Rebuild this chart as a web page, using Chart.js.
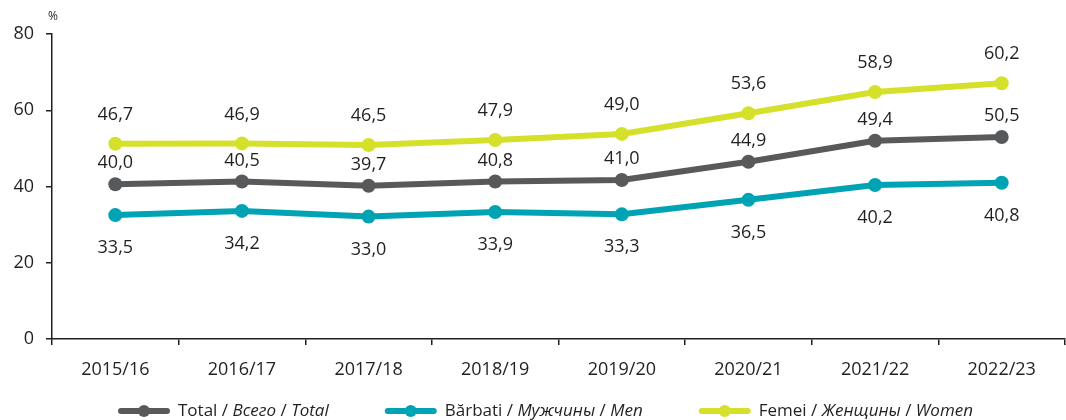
<!DOCTYPE html>
<html>
<head>
<meta charset="utf-8">
<script src="https://cdn.jsdelivr.net/npm/chart.js@4/dist/chart.umd.min.js"></script>
<style>
html,body{margin:0;padding:0;background:#fff;overflow:hidden;}
#wrap{width:1066px;height:420px;position:relative;overflow:hidden;}
</style>
</head>
<body>
<div id="wrap"><canvas id="c" width="1072" height="420"></canvas></div>
<script>
const categories = ['2015/16','2016/17','2017/18','2018/19','2019/20','2020/21','2021/22','2022/23'];
const totalValues = [40.6, 41.3, 40.2, 41.3, 41.7, 46.5, 52.0, 53.0];
const menValues   = [32.5, 33.6, 32.1, 33.3, 32.7, 36.5, 40.4, 41.0];
const womenValues = [51.2, 51.3, 50.9, 52.2, 53.8, 59.2, 64.8, 67.1];
const totalLabels = ['40,0','40,5','39,7','40,8','41,0','44,9','49,4','50,5'];
const menLabels   = ['33,5','34,2','33,0','33,9','33,3','36,5','40,2','40,8'];
const womenLabels = ['46,7','46,9','46,5','47,9','49,0','53,6','58,9','60,2'];
const yTicks = [0, 20, 40, 60, 80];
const legendParts = [
  [['Total / ', false], ['Всего', true], [' / ', false], ['Total', true]],
  [['Bărbati / ', false], ['Мужчины', true], [' / ', false], ['Men', true]],
  [['Femei / ', false], ['Женщины', true], [' / ', false], ['Women', true]]
];

const FONT = '"Open Sans", sans-serif';
const TXT = '#231f20';
const colors = ['#58595b', '#00a3b4', '#d5e02b'];
const labelSets = [totalLabels, menLabels, womenLabels];
const labelOffsets = [-21, 33, -29];

const labelPlugin = {
  id: 'labelsAndLegend',
  afterDatasetsDraw(chart) {
    const ctx = chart.ctx;
    ctx.save();
    ctx.font = '18px ' + FONT;
    ctx.fillStyle = TXT;
    ctx.textAlign = 'center';
    ctx.textBaseline = 'middle';
    chart.data.datasets.forEach((ds, i) => {
      const meta = chart.getDatasetMeta(i);
      meta.data.forEach((pt, j) => {
        ctx.fillText(labelSets[i][j], pt.x, pt.y + labelOffsets[i]);
      });
    });
    // percent sign
    ctx.font = '12px ' + FONT;
    ctx.textAlign = 'center';
    ctx.fillText('%', chart.chartArea.left + 1, 17);
    // legend
    const ly = 411;
    const LF = '17px ';
    const symW = 52, symGap = 8, itemGap = 56;
    let x = 118;
    legendParts.forEach((parts, i) => {
      ctx.strokeStyle = colors[i];
      ctx.lineWidth = 6;
      ctx.lineCap = 'round';
      ctx.beginPath();
      ctx.moveTo(x + 3, ly);
      ctx.lineTo(x + symW - 3, ly);
      ctx.stroke();
      ctx.fillStyle = colors[i];
      ctx.beginPath();
      ctx.arc(x + symW / 2, ly, 6, 0, Math.PI * 2);
      ctx.fill();
      x += symW + symGap;
      ctx.fillStyle = TXT;
      ctx.textAlign = 'left';
      parts.forEach(([t, it]) => {
        ctx.font = (it ? 'italic ' : '') + LF + FONT;
        ctx.fillText(t, x, ly);
        x += ctx.measureText(t).width;
      });
      x += itemGap;
    });
    ctx.restore();
  }
};

const mk = (label, data, color) => ({
  label, data,
  borderColor: color, backgroundColor: color,
  borderWidth: 6, pointRadius: 7, pointHoverRadius: 7,
  pointBackgroundColor: color, pointBorderWidth: 0,
  tension: 0
});

new Chart(document.getElementById('c'), {
  type: 'line',
  data: {
    labels: categories,
    datasets: [
      mk('Total', totalValues, colors[0]),
      mk('Bărbati', menValues, colors[1]),
      mk('Femei', womenValues, colors[2])
    ]
  },
  options: {
    responsive: false,
    animation: false,
    events: [],
    layout: { padding: { top: 34, right: 2, bottom: 41, left: 1 } },
    plugins: { legend: { display: false }, tooltip: { enabled: false } },
    scales: {
      x: {
        offset: true,
        grid: { offset: true, drawOnChartArea: false, drawTicks: true, tickLength: 6, color: TXT, lineWidth: 1.5 },
        border: { display: true, color: TXT, width: 1.5 },
        ticks: { color: TXT, font: { family: FONT, size: 18 }, padding: 14, maxRotation: 0 },
        afterFit: s => { s.height = 40; }
      },
      y: {
        min: 0, max: 80,
        afterBuildTicks: s => { s.ticks = yTicks.map(v => ({ value: v })); },
        grid: { drawOnChartArea: false, drawTicks: true, tickLength: 6, color: TXT, lineWidth: 1.5 },
        border: { display: true, color: TXT, width: 1.5 },
        ticks: { color: TXT, font: { family: FONT, size: 18 }, padding: 12 },
        afterFit: s => { s.width = 51; }
      }
    }
  },
  plugins: [labelPlugin]
});
</script>
</body>
</html>
